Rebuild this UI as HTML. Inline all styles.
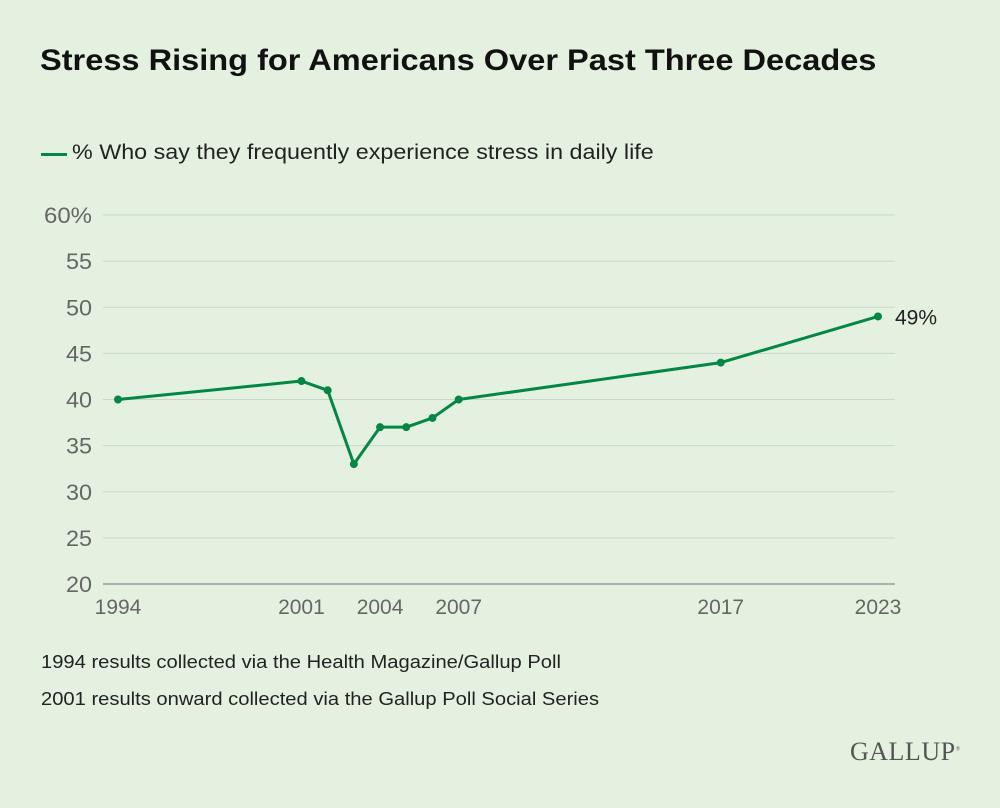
<!DOCTYPE html>
<html><head><meta charset="utf-8"><style>
body{margin:0;background:#e4f1e0;}
#wrap{position:relative;width:1000px;height:808px;background:#e4f1e0;font-family:"Liberation Sans",sans-serif;overflow:hidden}
.t{position:absolute;white-space:nowrap;transform-origin:0 0}
</style></head><body>
<div id="wrap">
<div class="t" style="left:40px;top:44px;font-size:30px;font-weight:bold;color:#111;transform:scaleX(1.085)">Stress Rising for Americans Over Past Three Decades</div>
<div style="position:absolute;left:41px;top:153px;width:26px;height:3px;background:#048644"></div>
<div class="t" style="left:72px;top:141px;font-size:21px;color:#222;transform:scaleX(1.11)">% Who say they frequently experience stress in daily life</div>
<svg id="chart" width="1000" height="640" style="position:absolute;left:0;top:0"></svg>
<div class="t" style="left:41px;top:652px;font-size:18px;color:#222;transform:scaleX(1.12)">1994 results collected via the Health Magazine/Gallup Poll</div>
<div class="t" style="left:41px;top:689px;font-size:18px;color:#222;transform:scaleX(1.12)">2001 results onward collected via the Gallup Poll Social Series</div>
<div class="t" style="left:850px;top:737px;font-family:'Liberation Serif',serif;font-size:26px;color:#555;letter-spacing:0.5px">GALLUP<sup style="font-size:6px">®</sup></div>
</div>
<script>
const years=[1994,2001,2002,2003,2004,2005,2006,2007,2017,2023];
const values=[40,42,41,33,37,37,38,40,44,49];
const yTicks=[20,25,30,35,40,45,50,55,60];
const xTickYears=[1994,2001,2004,2007,2017,2023];
const NS="http://www.w3.org/2000/svg";
const svg=document.getElementById('chart');
const xs=y=>118+(y-1994)*(878-118)/29;
const ys=v=>584-(v-20)*(584-215)/40;
function mk(tag,attrs){const e=document.createElementNS(NS,tag);for(const k in attrs)e.setAttribute(k,attrs[k]);svg.appendChild(e);return e;}
yTicks.forEach(v=>{
 const g=mk('line',{x1:103,x2:895,y1:ys(v),y2:ys(v),stroke:v===20?'#999':'#c9d6c5','stroke-width':v===20?1.5:1});
 
 
 const t=mk('text',{x:92,y:ys(v)+8,'text-anchor':'end','font-size':22,fill:'#666','font-family':'Liberation Sans, sans-serif',textLength:(v===60?48:26),lengthAdjust:'spacingAndGlyphs'});
 t.textContent=v===60?'60%':v;
 
 
});
xTickYears.forEach(y=>{
 const t=mk('text',{x:xs(y),y:614,'text-anchor':'middle','font-size':21,fill:'#666','font-family':'Liberation Sans, sans-serif'});
 t.textContent=y;
 
 
});
const p=mk('polyline',{points:years.map((y,i)=>xs(y)+','+ys(values[i])).join(' '),fill:'none',stroke:'#048644','stroke-width':3,'stroke-linejoin':'round'});


years.forEach((y,i)=>{
 const c=mk('circle',{cx:xs(y),cy:ys(values[i]),r:4,fill:'#048644'});
 
 
});
const li=years.length-1;
const lab=mk('text',{x:xs(years[li])+17,y:ys(values[li])+8,'font-size':21,fill:'#222','font-family':'Liberation Sans, sans-serif'});
lab.textContent=values[li]+'%';


</script>
</body></html>
